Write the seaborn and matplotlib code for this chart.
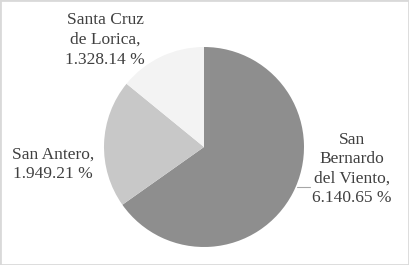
import matplotlib
matplotlib.use("Agg")
import matplotlib.pyplot as plt
import seaborn as sns
from matplotlib.patches import Rectangle

# data
municipios = ["San\nBernardo\ndel Viento,", "San Antero,", "Santa Cruz\nde Lorica,"]
valores = [6140.65, 1949.21, 1328.14]
etiquetas = ["6.140.65 %", "1.949.21 %", "1.328.14 %"]
colores = ["#8e8e8e", "#c8c8c8", "#f3f3f3"]

sns.set_theme(style="white")
plt.rcParams["font.family"] = ["Liberation Serif", "DejaVu Serif"]

fig = plt.figure(figsize=(4.09, 2.65), dpi=100)
ax = fig.add_axes([104 / 409, 18 / 265, 200 / 409, 200 / 265])

wedges, _ = ax.pie(valores, colors=colores, startangle=90, counterclock=False,
                   wedgeprops={"linewidth": 0})
ax.set_xlim(-1, 1)
ax.set_ylim(-1, 1)
ax.set_aspect("equal")

# label positions (data coords, outside the pie)
pos = [(1.48, -0.22), (-1.51, -0.17), (-0.99, 1.07)]
for (x, y), nom, et in zip(pos, municipios, etiquetas):
    ax.text(x, y, nom + "\n" + et, ha="center", va="center", fontsize=12.5,
            color="#404040", linespacing=1.3, clip_on=False)

# leader line for the big slice
ax.plot([0.93, 1.06], [-0.40, -0.40], color="#a6a6a6", lw=0.8, clip_on=False)

fig.patches.append(Rectangle((0, 0), 1, 1, transform=fig.transFigure,
                             fill=False, edgecolor="#d9d9d9", lw=2))

fig.savefig("out.png", dpi=100)
